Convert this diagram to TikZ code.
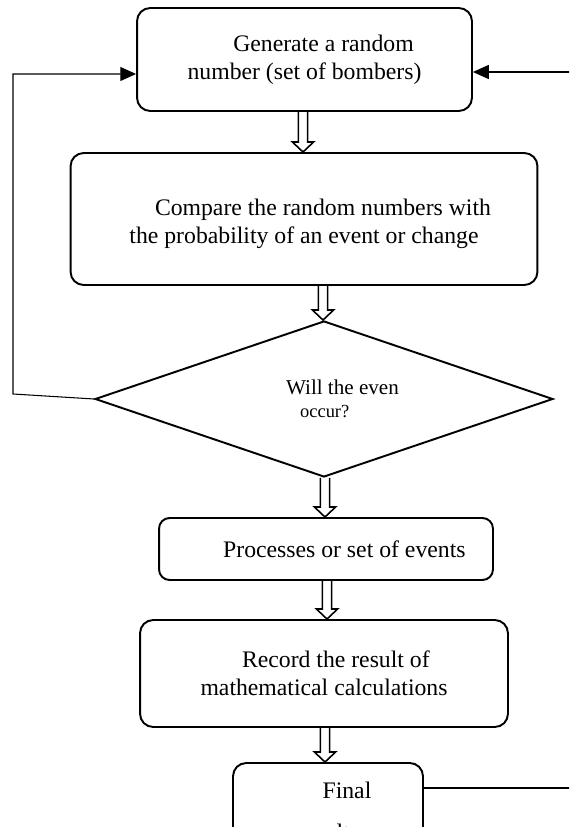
\documentclass[tikz,border=0pt]{standalone}
\usepackage{fontspec}
\setmainfont{Liberation Serif}
\usetikzlibrary{
    shapes.geometric,
    arrows.meta,
    calc,
    positioning
}
\tikzset{
    rbox/.style={draw=black, line width=1.1pt, rounded corners=7.5pt, align=center,
        font=\fontsize{13.5}{16}\selectfont},
    btxt/.style={align=center, font=\fontsize{13.5}{16}\selectfont},
    qdiam/.style={draw=black, line width=1.1pt, diamond, aspect=2.94, inner sep=0pt, align=left,
        font=\fontsize{12}{13}\selectfont},
    hollow/.style={draw=black, line width=0.9pt, line join=miter},
    fback/.style={draw=black, line width=0.6pt}
}
\newcommand{\hollowarrow}[2]{%
    \draw[hollow] let \p1=#1, \p2=#2 in
    (\x1-2.6pt,\y1) -- (\x1-2.6pt,\y2+5.7pt) -- (\x1-6pt,\y2+5.7pt) -- (\x1,\y2)
    -- (\x1+6pt,\y2+5.7pt) -- (\x1+2.6pt,\y2+5.7pt) -- (\x1+2.6pt,\y1);
}

\begin{document}
\begin{tikzpicture}[x=0.02cm, y=-0.02cm]
                        \clip (0, 0) rectangle (569, 827);
                        \useasboundingbox (0, 0) rectangle (569, 827);

                        \node[rbox, minimum width=6.7cm, minimum height=2.06cm] (gen) at (304.5, 59.5)
                        {\hspace*{1.6em}Generate a random\\number (set of bombers)};
                        \node[rbox, minimum width=9.34cm, minimum height=2.64cm] (cmp) at (304, 219) {};
                        \node[btxt] (cmptxt) at (304, 224)
                        {\hspace*{1.6em}Compare the random numbers with\\the probability of an event or change};
                        \node[qdiam, minimum width=9.16cm, minimum height=3.12cm] (evt) at (324, 399)
                        {\hspace*{21pt}Will the even\\\hspace*{29pt}{\fontsize{10.5}{12}\selectfont occur?}};
                        \node[rbox, rounded corners=6pt, minimum width=6.68cm, minimum height=1.24cm] (proc) at (326, 549)
                        {\hspace*{1.55em}Processes or set of events};
                        \node[rbox, minimum width=7.36cm, minimum height=2.14cm] (rec) at (324, 673.5)
                        {\hspace*{1em}Record the result of\\mathematical calculations};
                        \node[rbox, minimum width=3.8cm, minimum height=1.92cm] (fin) at (328, 811)
                        {\hspace*{1.6em}Final\\[8pt]results};

                        \hollowarrow{(303, 0 |- gen.south)}{(303, 0 |- cmp.north)}
                        \hollowarrow{(323, 0 |- cmp.south)}{(323, 0 |- evt.north)}
                        \hollowarrow{(325, 0 |- evt.south)}{(325, 0 |- proc.north)}
                        \hollowarrow{(327, 0 |- proc.south)}{(327, 0 |- rec.north)}
                        \hollowarrow{(325, 0 |- rec.south)}{(325, 0 |- fin.north)}

                        \coordinate (lt) at (13, 74);
                        \coordinate (lb) at (13, 394);
                        \draw[fback, -{Triangle[length=9pt, width=8pt]}]
                        (evt.west) -- (lb) -- (lt) -- (lt -| gen.west);

                        \coordinate (rb) at (600, 788);
                        \coordinate (rt) at (600, 72);
                        \draw[fback, -{Triangle[length=9pt, width=8pt]}]
                        (rb -| fin.east) -- (rb) -- (rt) -- (rt -| gen.east);
                    \end{tikzpicture}
\end{document}
